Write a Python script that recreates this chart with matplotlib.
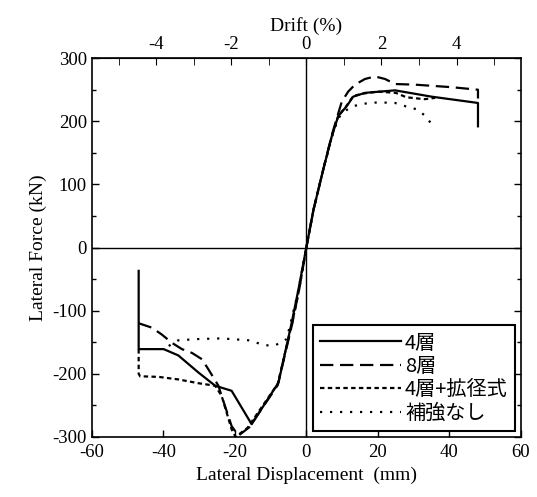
import matplotlib
matplotlib.use('Agg')
import matplotlib.pyplot as plt
from matplotlib.ticker import MultipleLocator

plt.rcParams['font.family'] = ['Liberation Serif', 'Noto Sans CJK JP']
plt.rcParams['axes.unicode_minus'] = False
plt.rcParams['xtick.direction'] = 'in'
plt.rcParams['ytick.direction'] = 'in'

# displacement (mm) / force (kN)
x_4f = [-46.9, -46.9, -39.9, -35.8, -30.2, -25.5, -20.9, -15.3, -7.8, -4.1, -2.2, 0.0,
        2.0, 4.7, 7.1, 8.9, 11.3, 13.1, 16.4, 24.8, 35.0, 48.0, 48.0]
y_4f = [-37, -161, -161, -171, -198, -219, -227, -280, -214, -119, -66, 0,
        60, 123, 176, 208, 224, 239, 245, 249, 239, 229, 192]

x_8f = [-46.9, -43.2, -40.4, -37.6, -34.8, -32.0, -29.2, -27.4, -24.6, -23.7, -20.9, -19.0,
        -16.0, -8.0, -4.0, -2.0, 0.0, 2.0, 4.7, 7.1, 9.9, 11.7, 13.6, 16.4, 19.2, 22.0,
        24.8, 30.4, 40.6, 48.0, 48.0]
y_8f = [-120, -127, -138, -151, -161, -167, -177, -193, -219, -235, -283, -298,
        -285, -218, -122, -66, 0, 60, 123, 178, 231, 247, 258, 267, 271, 267,
        259, 258, 254, 250, 236]

x_4fk = [-46.9, -46.9, -46.5, -41.3, -35.8, -30.2, -25.5, -23.7, -20.9, -19.8,
         -16.5, -8.0, -4.0, -2.0, 0.0, 2.0, 4.7, 7.1, 8.9, 11.3, 13.1, 16.0, 20.0,
         25.0, 28.0, 33.0, 36.0]
y_4fk = [-161, -200, -204, -205, -209, -215, -219, -235, -288, -300,
         -286, -216, -120, -66, 0, 60, 123, 176, 208, 225, 240, 244, 247,
         245, 238, 235, 237]

x_none = [-38.5, -35.8, -30.2, -23.7, -16.2, -11.5, -8.7, -5.5, -2.5, 0.0,
          2.0, 4.7, 7.1, 8.9, 11.3, 13.1, 16.4, 20.1, 24.8, 27.6, 30.8, 33.2, 35.5]
y_none = [-156, -147, -145, -144, -147, -155, -155, -145, -75, 0,
          60, 123, 174, 205, 218, 224, 228, 230, 229, 224, 219, 209, 192]

fig = plt.figure(figsize=(5.37, 4.97), dpi=100)
ax = fig.add_axes([0.171, 0.121, 0.799, 0.762])

ax.axhline(0, color='black', lw=1.0)
ax.axvline(0, color='black', lw=1.0)

ax.plot(x_4f, y_4f, color='black', lw=1.6, ls='-', label='4層')
ax.plot(x_8f, y_8f, color='black', lw=1.6, ls=(0, (6, 3)), label='8層')
ax.plot(x_4fk, y_4fk, color='black', lw=1.6, ls=(0, (2, 1.5)), label='4層+拡径式')
ax.plot(x_none, y_none, color='black', lw=1.6, ls=(0, (1, 3.5)), label='補強なし')

ax.set_xlim(-60, 60)
ax.set_ylim(-300, 300)
ax.xaxis.set_major_locator(MultipleLocator(20))
ax.yaxis.set_major_locator(MultipleLocator(100))
ax.yaxis.set_minor_locator(MultipleLocator(50))
ax.tick_params(which='both', top=False, right=True, labelsize=13.5, width=1.0)
ax.tick_params(which='major', length=5)
ax.tick_params(which='minor', length=3)
ax.tick_params(axis='x', pad=5)
for s in ax.spines.values():
    s.set_linewidth(1.2)

ax.set_xlabel('Lateral Displacement  (mm)', fontsize=14)
ax.set_ylabel('Lateral Force (kN)', fontsize=14)

# drift axis on top: 1% = 10.5 mm
sec = ax.secondary_xaxis('top', functions=(lambda x: x / 10.5, lambda d: d * 10.5))
sec.xaxis.set_major_locator(MultipleLocator(2))
sec.xaxis.set_minor_locator(MultipleLocator(1))
sec.tick_params(which='both', direction='in', labelsize=13.5)
sec.tick_params(which='major', length=5)
sec.tick_params(which='minor', length=5)
sec.set_xlabel('Drift (%)', fontsize=14)

leg = ax.legend(loc='lower right', handlelength=4.0, handletextpad=0.2,
                labelspacing=0.12, frameon=True, fancybox=False,
                borderpad=0.35, borderaxespad=0.3,
                prop={'family': ['Noto Sans CJK JP'], 'size': 14.5})
leg.get_frame().set_edgecolor('black')
leg.get_frame().set_linewidth(1.5)
leg.get_frame().set_alpha(1)

fig.savefig('out.png', dpi=100)
